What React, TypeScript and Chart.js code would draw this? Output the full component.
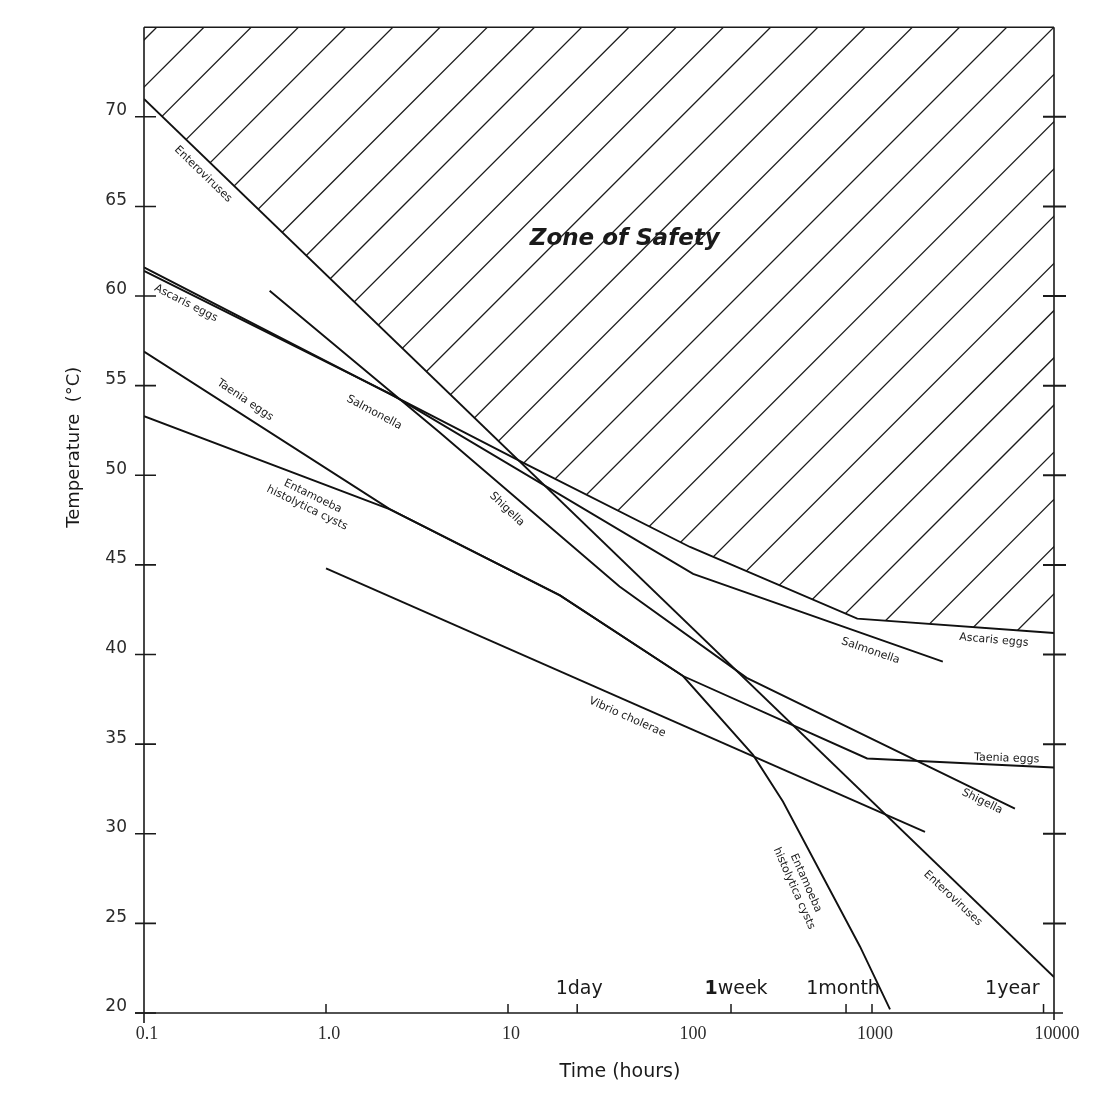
import React, { useEffect, useRef } from "react";
import { Chart, registerables } from "chart.js";

Chart.register(...registerables);

// ---- axis data ----
const X_TICKS = [0.1, 1, 10, 100, 1000, 10000];
const X_TICK_LABELS = ["0.1", "1.0", "10", "100", "1000", "10000"];
const X_MINOR_TICKS = [1, 10, 1000];
const Y_TICKS = [20, 25, 30, 35, 40, 45, 50, 55, 60, 65, 70];
const TIME_MARK_HOURS = [24, 168, 720, 8760];
const TIME_MARK_LABELS = ["1day", "1week", "1month", "1year"];

// ---- series (time in hours, temperature in °C) ----
const enteroX = [0.1, 10000];
const enteroY = [71.0, 22.0];

const ascarisX = [0.1, 12.7, 100, 830, 10000];
const ascarisY = [61.6, 50.6, 46.0, 42.0, 41.2];

const salmonellaX = [0.1, 2.3, 104, 2450];
const salmonellaY = [61.4, 54.5, 44.5, 39.6];

const shigellaX = [0.49, 4.2, 41, 205, 6100];
const shigellaY = [60.3, 52.4, 43.8, 38.7, 31.4];

const taeniaX = [0.1, 2.25, 19.3, 91.5, 940, 10000];
const taeniaY = [56.9, 48.1, 43.3, 38.8, 34.2, 33.7];

const entamoebaX = [0.1, 2.25, 19.3, 91.5, 222, 324, 860, 1256];
const entamoebaY = [53.3, 48.1, 43.3, 38.8, 34.4, 31.8, 23.7, 20.2];

const vibrioX = [1.0, 1955];
const vibrioY = [44.8, 30.1];

// ---- annotations (anchor in data coords, angle in degrees) ----
const LINE_LABELS = [
  { text: "Enteroviruses", x: 0.211, y: 66.8, angle: 44 },
  { text: "Ascaris eggs", x: 0.17, y: 59.6, angle: 27 },
  { text: "Salmonella", x: 1.84, y: 53.5, angle: 28 },
  { text: "Taenia eggs", x: 0.359, y: 54.2, angle: 34 },
  { text: "Entamoeba\nhistolytica cysts", x: 0.816, y: 48.5, angle: 26 },
  { text: "Shigella", x: 9.87, y: 48.1, angle: 44 },
  { text: "Salmonella", x: 981, y: 40.2, angle: 19 },
  { text: "Ascaris eggs", x: 4670, y: 40.8, angle: 5 },
  { text: "Taenia eggs", x: 5500, y: 34.2, angle: 2 },
  { text: "Shigella", x: 4030, y: 31.8, angle: 26 },
  { text: "Vibrio cholerae", x: 45.2, y: 36.5, angle: 24 },
  { text: "Entamoeba\nhistolytica cysts", x: 402, y: 27.1, angle: 66 },
  { text: "Enteroviruses", x: 2780, y: 26.4, angle: 43 },
];
const ZONE_LABEL = { text: "Zone of Safety", x: 43.8, y: 63.2 };

const toPts = (xs: number[], ys: number[]) => xs.map((x, i) => ({ x, y: ys[i] }));

const SERIES = [
  { label: "Enteroviruses", data: toPts(enteroX, enteroY) },
  { label: "Ascaris eggs", data: toPts(ascarisX, ascarisY) },
  { label: "Salmonella", data: toPts(salmonellaX, salmonellaY) },
  { label: "Shigella", data: toPts(shigellaX, shigellaY) },
  { label: "Taenia eggs", data: toPts(taeniaX, taeniaY) },
  { label: "Entamoeba histolytica cysts", data: toPts(entamoebaX, entamoebaY) },
  { label: "Vibrio cholerae", data: toPts(vibrioX, vibrioY) },
];

const INK = "#111111";

const hatchPlugin = {
  id: "hatch",
  beforeDatasetsDraw(chart: any) {
    const { ctx, chartArea: ca, scales } = chart;
    const xs = scales.x;
    const ys = scales.y;
    ctx.save();
    ctx.beginPath();
    ctx.rect(ca.left, ca.top, ca.right - ca.left, ca.bottom - ca.top);
    ctx.clip();
    const boundaries = [toPts(enteroX, enteroY), toPts(ascarisX, ascarisY)];
    for (const pts of boundaries) {
      ctx.beginPath();
      const px = pts.map((p) => [xs.getPixelForValue(p.x), ys.getPixelForValue(p.y)]);
      ctx.moveTo(px[0][0] - 2, px[0][1]);
      for (const [a, b] of px) ctx.lineTo(a, b);
      ctx.lineTo(px[px.length - 1][0] + 2, px[px.length - 1][1]);
      ctx.lineTo(px[px.length - 1][0] + 2, ca.top - 5);
      ctx.lineTo(px[0][0] - 2, ca.top - 5);
      ctx.closePath();
      ctx.clip();
    }
    const w = ca.right - ca.left;
    const first = ca.left + ca.top + 60;
    const step = (w - 60) / 18;
    ctx.strokeStyle = "#1c1c1c";
    ctx.lineWidth = 1.3;
    for (let c = first - step * 40; c < ca.right + ca.bottom + step; c += step) {
      ctx.beginPath();
      ctx.moveTo(c - ca.top + 2, ca.top - 2);
      ctx.lineTo(c - ca.bottom - 2, ca.bottom + 2);
      ctx.stroke();
    }
    ctx.restore();
  },
};

const decorPlugin = {
  id: "decor",
  afterDraw(chart: any) {
    const { ctx, chartArea: ca, scales } = chart;
    const xs = scales.x;
    const ys = scales.y;
    ctx.save();
    ctx.strokeStyle = "#1a1a1a";
    ctx.lineWidth = 1.6;
    // frame
    ctx.beginPath();
    ctx.moveTo(ca.left, ca.top);
    ctx.lineTo(ca.right, ca.top);
    ctx.moveTo(ca.left, ca.top);
    ctx.lineTo(ca.left, ca.bottom + 10);
    ctx.moveTo(ca.left - 9, ca.bottom);
    ctx.lineTo(ca.right + 9, ca.bottom);
    ctx.moveTo(ca.right, ca.top);
    ctx.lineTo(ca.right, ca.bottom + 7);
    ctx.stroke();
    // left ticks
    ctx.beginPath();
    for (const v of Y_TICKS) {
      const y = ys.getPixelForValue(v);
      ctx.moveTo(ca.left - 9, y);
      ctx.lineTo(ca.left + 12, y);
    }
    ctx.stroke();
    // right ticks
    ctx.lineWidth = 2;
    ctx.beginPath();
    for (const v of Y_TICKS) {
      if (v === 20) continue;
      const y = ys.getPixelForValue(v);
      ctx.moveTo(ca.right - 11, y);
      ctx.lineTo(ca.right + 12, y);
    }
    ctx.stroke();
    // bottom ticks
    ctx.lineWidth = 1.5;
    ctx.beginPath();
    for (const v of [...X_MINOR_TICKS, ...TIME_MARK_HOURS]) {
      const x = xs.getPixelForValue(v);
      ctx.moveTo(x, ca.bottom);
      ctx.lineTo(x, ca.bottom - 9);
    }
    ctx.stroke();

    ctx.fillStyle = "#1a1a1a";
    // time marks
    const F = "19px 'DejaVu Sans'";
    const FB = "bold 19px 'DejaVu Sans'";
    ctx.font = F;
    ctx.textBaseline = "alphabetic";
    TIME_MARK_HOURS.forEach((h, i) => {
      const x = xs.getPixelForValue(h);
      const label = TIME_MARK_LABELS[i];
      const base = ca.bottom - 19;
      if (i === 1) {
        ctx.font = FB;
        const w1 = ctx.measureText(label[0]).width;
        ctx.font = F;
        const w2 = ctx.measureText(label.slice(1)).width;
        const start = x + 5 - (w1 + w2) / 2;
        ctx.textAlign = "left";
        ctx.font = FB;
        ctx.fillText(label[0], start, base);
        ctx.font = F;
        ctx.fillText(label.slice(1), start + w1, base);
      } else if (i === 3) {
        ctx.textAlign = "right";
        ctx.fillText(label, x - 4, base);
      } else {
        ctx.textAlign = "center";
        ctx.fillText(label, x + (i === 0 ? 2 : -3), base);
      }
    });

    // axis titles
    ctx.font = "19px 'DejaVu Sans'";
    ctx.textAlign = "center";
    ctx.textBaseline = "middle";
    ctx.fillText("Time (hours)", ca.left + 476, ca.bottom + 59);
    ctx.font = "18px 'DejaVu Sans'";
    ctx.save();
    ctx.translate(ca.left - 70, ca.top + 420);
    ctx.rotate(-Math.PI / 2);
    ctx.fillText("Temperature  (°C)", 0, 0);
    ctx.restore();

    // zone label
    ctx.font = "italic bold 23px 'DejaVu Sans'";
    ctx.fillText(ZONE_LABEL.text, xs.getPixelForValue(ZONE_LABEL.x), ys.getPixelForValue(ZONE_LABEL.y));

    // line labels
    ctx.font = "11px 'DejaVu Sans'";
    for (const l of LINE_LABELS) {
      const lines = l.text.split("\n");
      ctx.save();
      ctx.translate(xs.getPixelForValue(l.x), ys.getPixelForValue(l.y));
      ctx.rotate((l.angle * Math.PI) / 180);
      lines.forEach((t, i) => {
        ctx.fillText(t, 0, (i - (lines.length - 1) / 2) * 13);
      });
      ctx.restore();
    }
    ctx.restore();
  },
};

export default function App() {
  const ref = useRef<HTMLCanvasElement | null>(null);
  useEffect(() => {
    if (!ref.current) return;
    const chart = new Chart(ref.current, {
      type: "line",
      data: {
        datasets: SERIES.map((s) => ({
          label: s.label,
          data: s.data,
          borderColor: INK,
          borderWidth: 1.9,
          pointRadius: 0,
          fill: false,
          tension: 0,
        })),
      },
      options: {
        responsive: false,
        animation: false,
        devicePixelRatio: 1,
        layout: { padding: { top: 24, right: 47, left: 0, bottom: 0 } },
        plugins: { legend: { display: false }, tooltip: { enabled: false } },
        scales: {
          x: {
            type: "logarithmic",
            min: 0.1,
            max: 10000,
            afterBuildTicks: (s: any) => {
              s.ticks = X_TICKS.map((v) => ({ value: v }));
            },
            afterFit: (s: any) => {
              s.height = 87;
            },
            grid: { display: false, drawTicks: false },
            border: { display: false },
            ticks: {
              autoSkip: false,
              maxRotation: 0,
              padding: 10,
              labelOffset: 3,
              color: "#2a2a2a",
              font: { family: "'Liberation Serif'", size: 18 },
              callback: (_v: any, i: number) => X_TICK_LABELS[i],
            },
          },
          y: {
            type: "linear",
            min: 20,
            max: 75,
            afterBuildTicks: (s: any) => {
              s.ticks = Y_TICKS.map((v) => ({ value: v }));
            },
            afterFit: (s: any) => {
              s.width = 144;
            },
            grid: { display: false, drawTicks: false },
            border: { display: false },
            ticks: {
              padding: 17,
              labelOffset: -6,
              color: "#2a2a2a",
              font: { family: "'DejaVu Sans'", size: 17 },
              callback: (v: any) => String(v),
            },
          },
        },
      },
      plugins: [hatchPlugin, decorPlugin],
    } as any);
    return () => chart.destroy();
  }, []);
  return (
    <div style={{ position: "fixed", left: 0, top: 0, width: 1101, height: 1100, background: "#fff" }}>
      <canvas ref={ref} width={1101} height={1100} style={{ display: "block" }} />
    </div>
  );
}
